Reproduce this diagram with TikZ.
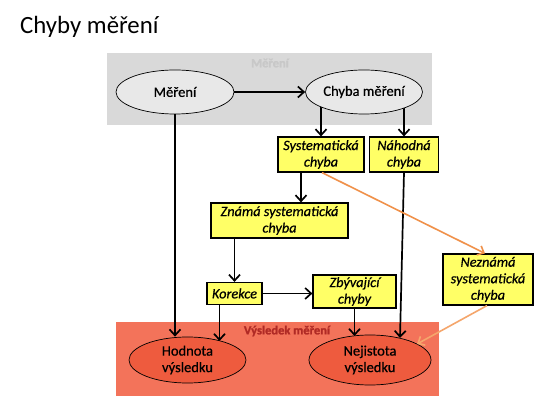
\documentclass[tikz,border=0pt]{standalone}
\usepackage{fontspec}
\setmainfont{Carlito}
\usetikzlibrary{shapes.geometric,arrows.meta,calc}
\definecolor{boxyellow}{HTML}{FFFF66}
\definecolor{regiongray}{HTML}{D9D9D9}
\definecolor{ellgray}{HTML}{E8E8E8}
\definecolor{regionred}{HTML}{F3735A}
\definecolor{ellred}{HTML}{EE5B3E}
\definecolor{labelgray}{HTML}{C8C8C8}
\definecolor{labelred}{HTML}{B02A25}
\definecolor{orangeA}{HTML}{F0914A}
\definecolor{orangeB}{HTML}{F5A66C}
\pgfdeclarelayer{bg}
\pgfdeclarelayer{conn}
\pgfsetlayers{bg,conn,main}
\tikzset{
  ell/.style={ellipse, draw=black, line width=0.7pt, inner sep=0pt, align=center,
    font=\fontsize{14.5}{16.5}\selectfont\addfontfeature{FakeBold=0.6}},
  box/.style={rectangle, draw=black, line width=1.2pt, fill=boxyellow, inner sep=0pt,
    align=center, font=\itshape\fontsize{14.3}{16.5}\selectfont\addfontfeature{FakeBold=0.6}},
  arr/.style={draw=black, line width=1.7pt, -{Straight Barb[length=6pt,width=11pt]}},
  oarr/.style={line width=1.6pt, -{Straight Barb[length=5.5pt,width=10pt]}},
  regionlabel/.style={font=\bfseries\fontsize{12.5}{12.5}\selectfont\addfontfeature{FakeBold=1.5}, inner sep=0pt}
}
\begin{document}
\begin{tikzpicture}[x=1pt,y=-1pt]
\useasboundingbox (0,0) rectangle (539,403);
\begin{pgfonlayer}{bg}
\fill[white] (0,0) rectangle (539,403);
\fill[regiongray] (107,53) rectangle (432,125);
\fill[regionred] (116,322) rectangle (439,396);
\end{pgfonlayer}

\node[anchor=base west, inner sep=0pt, font=\fontsize{24.8}{26}\selectfont] (title) at (20,34) {Chyby měření};

\node[regionlabel, text=labelgray] (lblm) at (270,63) {Měření};
\node[regionlabel, text=labelred] (lblv) at (287,331) {Výsledek měření};

\node[ell, fill=ellgray, minimum width=118pt, minimum height=44pt] (mer) at (175,92) {Měření};
\node[ell, fill=ellgray, minimum width=117pt, minimum height=44pt] (chy) at (364,92) {Chyba měření};
\node[ell, fill=ellred, minimum width=117pt, minimum height=46pt] (hod) at (187.5,360) {Hodnota\\výsledku};
\node[ell, fill=ellred, minimum width=122pt, minimum height=50pt] (nej) at (370,360) {Nejistota\\výsledku};

\node[box, minimum width=86pt, minimum height=35pt] (sys) at (321,154.5) {Systematická\\chyba};
\node[box, minimum width=69pt, minimum height=35pt] (nah) at (404,154.5) {Náhodná\\chyba};
\node[box, minimum width=137pt, minimum height=35pt] (zna) at (279.5,220.5) {Známá systematická\\chyba};
\node[box, minimum width=55pt, minimum height=22pt] (kor) at (234.5,293.5) {Korekce};
\node[box, minimum width=83pt, minimum height=33pt] (zby) at (354.5,291.5) {Zbývající\\chyby};
\node[box, minimum width=90pt, minimum height=51pt] (nez) at (488,279.5) {Neznámá\\systematická\\chyba};

\draw[arr] (mer.east) -- (chy.west);
\begin{pgfonlayer}{conn}
\draw[arr] (sys.north |- chy.center) -- (sys.north);
\draw[arr] (nah.north |- chy.center) -- (nah.north);
\end{pgfonlayer}
\coordinate (s1) at ($(sys.south)+(-20,0)$);
\draw[arr] (s1) -- (s1 |- zna.north);
\draw[arr] (kor.north |- zna.south) -- (kor.north);
\draw[arr] (kor.east) -- (kor.east -| zby.west);
\coordinate (k1) at ($(kor.south)+(-15,0)$);
\coordinate (hodk) at ($(hod.center)+(32,-19)$);
\draw[arr] (k1) -- (hodk);
\draw[arr] (mer.south) -- (mer.south |- hod.north);
\coordinate (nejn) at ($(nej.center)+(30,-22)$);
\draw[arr] (nah.south) -- (nejn);
\coordinate (nejz) at ($(nej.center)+(-15.5,-24)$);
\draw[arr] (zby.south) -- (nejz);
\coordinate (sysS) at ($(sys.south)+(1,0)$);
\coordinate (nezN) at ($(nez.north)+(-3,0)$);
\draw[oarr, draw=orangeA] (sysS) -- (nezN);
\coordinate (nezS) at ($(nez.south)+(-1,0)$);
\coordinate (nejo) at ($(nej.center)+(47,-16)$);
\draw[oarr, draw=orangeB] (nezS) -- (nejo);
\end{tikzpicture}
\end{document}
